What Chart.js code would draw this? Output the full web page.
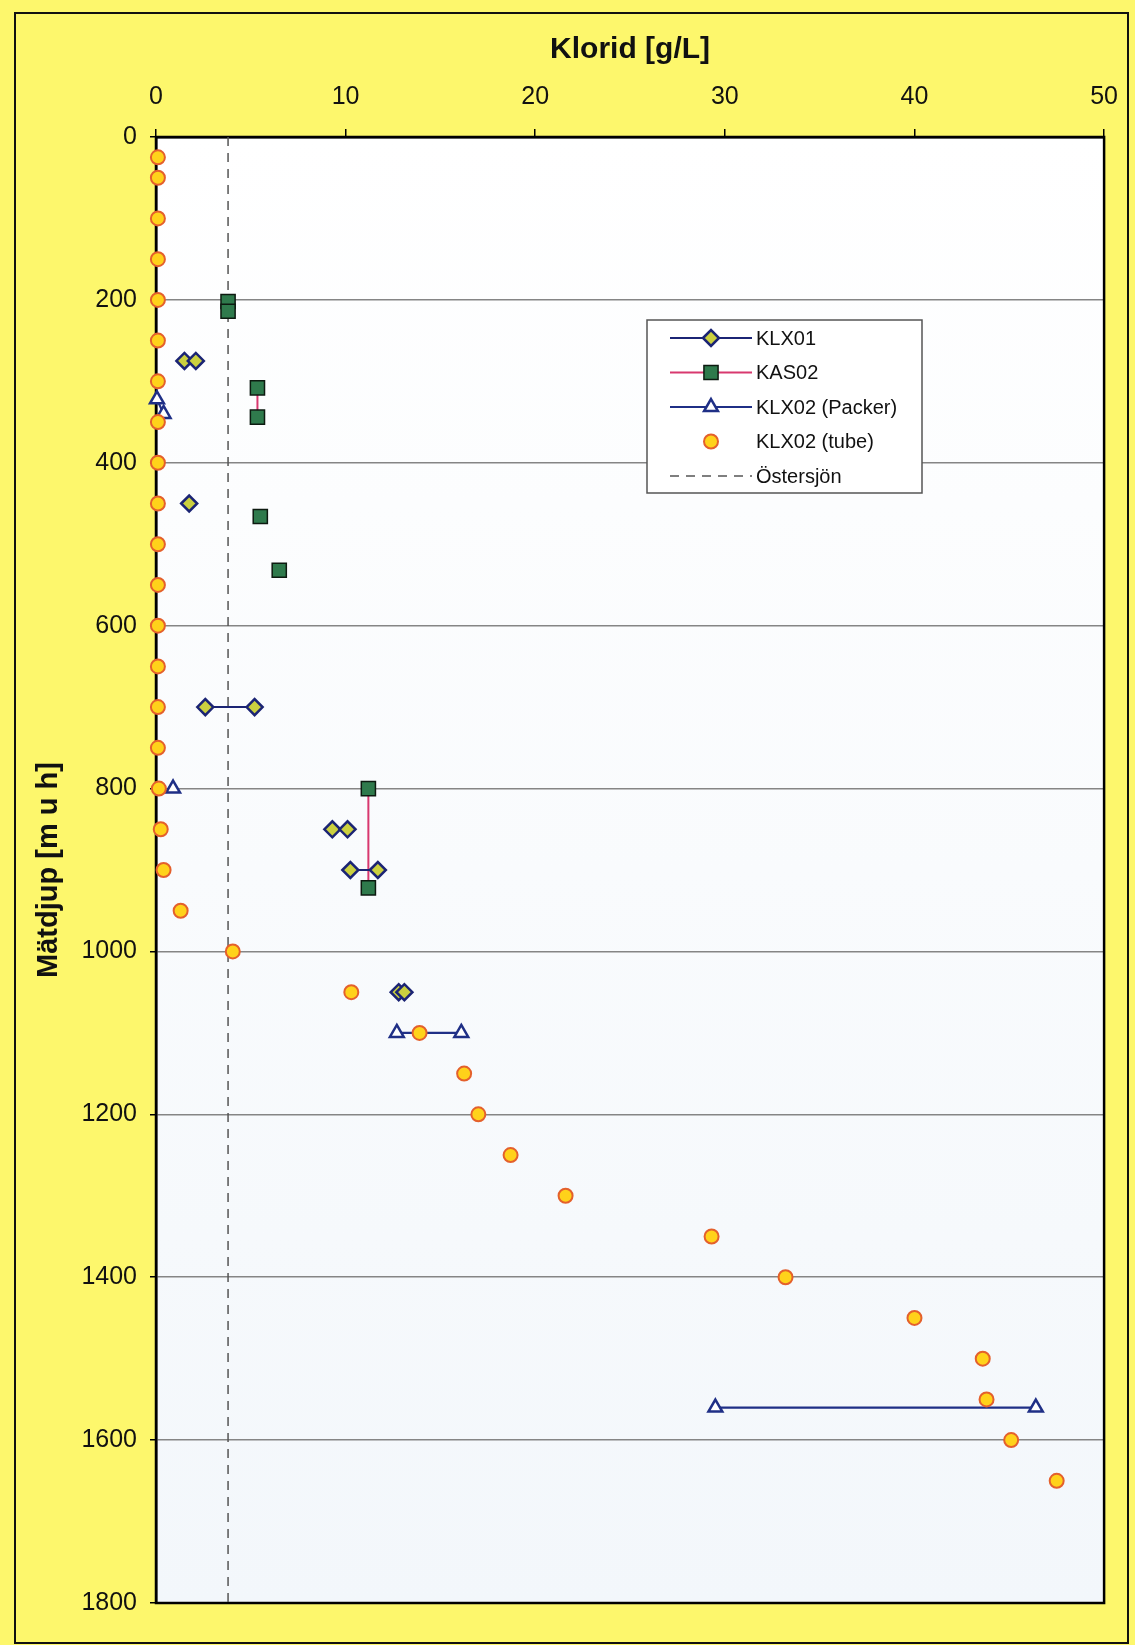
<!DOCTYPE html>
<html>
<head>
<meta charset="utf-8">
<script src="https://cdn.jsdelivr.net/npm/chart.js@4.4.0/dist/chart.umd.min.js"></script>
<style>
  html, body { margin: 0; padding: 0; background: #fdf76c; }
</style>
</head>
<body>
<canvas id="myChart" width="1135" height="1645"></canvas>
<script>
'use strict';

// axes: klorid [g/L] on top, depth [m u h] growing downwards
const xTicks = [0, 10, 20, 30, 40, 50];
const yTicks = [0, 200, 400, 600, 800, 1000, 1200, 1400, 1600, 1800];

// null = break between the sampled sections (no line drawn across)
const klx01Cl    = [1.5, 2.1, null, 1.75, null, 2.6, 5.2, null, 9.3, 10.1, null, 10.25, 11.7, null, 12.8, 13.1];
const klx01Depth = [275, 275, null, 450, null, 700, 700, null, 850, 850, null, 900, 900, null, 1050, 1050];

const kas02Cl    = [3.8, 3.8, null, 5.35, 5.35, null, 5.5, null, 6.5, null, 11.2, 11.2];
const kas02Depth = [202, 214, null, 308, 344, null, 466, null, 532, null, 800, 922];

const packerCl    = [0.05, 0.4, null, 0.9, null, 12.7, 16.1, null, 29.5, 46.4];
const packerDepth = [322, 340, null, 800, null, 1100, 1100, null, 1560, 1560];

const tubeDepth = [25, 50, 100, 150, 200, 250, 300, 350, 400, 450, 500, 550, 600, 650, 700, 750, 800, 850,
                   900, 950, 1000, 1050, 1100, 1150, 1200, 1250, 1300, 1350, 1400, 1450, 1500, 1550, 1600, 1650];
const tubeCl    = [0.1, 0.1, 0.1, 0.1, 0.1, 0.1, 0.1, 0.1, 0.1, 0.1, 0.1, 0.1, 0.1, 0.1, 0.1, 0.1, 0.15, 0.25,
                   0.4, 1.3, 4.05, 10.3, 13.9, 16.25, 17.0, 18.7, 21.6, 29.3, 33.2, 40.0, 43.6, 43.8, 45.1, 47.5];

const ostersjonCl    = [3.8, 3.8];
const ostersjonDepth = [0, 1800];

const legendOrder = ['KLX01', 'KAS02', 'KLX02 (Packer)', 'KLX02 (tube)', 'Östersjön'];

const FONT = "Arial, 'Liberation Sans', sans-serif";
const YELLOW = '#fdf76c';

function toPoints(xs, ys) {
  return xs.map((x, i) => ({ x: x, y: ys[i] }));
}

// yellow page, outer frame and plot background
const framePlugin = {
  id: 'frame',
  beforeDraw(chart) {
    const c = chart.ctx, a = chart.chartArea;
    c.save();
    c.fillStyle = YELLOW;
    c.fillRect(0, 0, chart.width, chart.height);
    c.strokeStyle = '#111';
    c.lineWidth = 2;
    c.strokeRect(15, 13, 1113, 1630);
    const g = c.createLinearGradient(0, a.top, 0, a.bottom);
    g.addColorStop(0, '#ffffff');
    g.addColorStop(1, '#f3f7fb');
    c.fillStyle = g;
    c.fillRect(a.left, a.top, a.right - a.left, a.bottom - a.top);
    c.restore();
  },
  beforeDatasetsDraw(chart) {
    const c = chart.ctx, a = chart.chartArea;
    c.save();
    c.strokeStyle = '#000';
    c.lineWidth = 2.5;
    c.strokeRect(a.left, a.top, a.right - a.left, a.bottom - a.top);
    c.restore();
  }
};

function marker(c, ds, x, y) {
  c.save();
  c.fillStyle = ds.pointBackgroundColor;
  c.strokeStyle = ds.pointBorderColor;
  c.lineWidth = ds.pointBorderWidth;
  Chart.helpers.drawPoint(c, {
    pointStyle: ds.pointStyle, rotation: 0, radius: ds.pointRadius, borderWidth: ds.pointBorderWidth
  }, x, y);
  c.restore();
}

// legend box inside the plot, line + marker samples like the original
const boxLegend = {
  id: 'boxLegend',
  afterDraw(chart) {
    const c = chart.ctx;
    const bx = 647, by = 320, bw = 275, bh = 173;
    c.save();
    c.fillStyle = '#ffffff';
    c.fillRect(bx, by, bw, bh);
    c.strokeStyle = '#555';
    c.lineWidth = 1.5;
    c.strokeRect(bx, by, bw, bh);
    legendOrder.forEach((name, i) => {
      const ds = chart.data.datasets.find(d => d.label === name);
      const y = by + 18 + i * 34.5;
      if (ds.showLine) {
        c.save();
        c.strokeStyle = ds.borderColor;
        c.lineWidth = ds.borderWidth;
        c.setLineDash(ds.borderDash || []);
        c.beginPath();
        c.moveTo(670, y);
        c.lineTo(752, y);
        c.stroke();
        c.restore();
      }
      if (ds.pointRadius > 0) marker(c, ds, 711, y);
      c.fillStyle = '#111';
      c.font = '20px ' + FONT;
      c.textBaseline = 'middle';
      c.fillText(name, 756, y + 1);
    });
    c.restore();
  }
};

const ctx = document.getElementById('myChart').getContext('2d');
const myChart = new Chart(ctx, {
  type: 'scatter',
  data: {
    datasets: [{
      label: 'KLX02 (tube)',
      data: toPoints(tubeCl, tubeDepth),
      showLine: false,
      pointStyle: 'circle',
      pointRadius: 7,
      pointBackgroundColor: '#ffd21a',
      pointBorderColor: '#e4602c',
      pointBorderWidth: 2,
      clip: false,
      order: 0
    }, {
      label: 'KLX01',
      data: toPoints(klx01Cl, klx01Depth),
      showLine: true,
      borderColor: '#1b2474',
      borderWidth: 2,
      pointStyle: 'rectRot',
      pointRadius: 8,
      pointBackgroundColor: '#cbd03f',
      pointBorderColor: '#1b2474',
      pointBorderWidth: 2.5,
      clip: false,
      order: 1
    }, {
      label: 'KAS02',
      data: toPoints(kas02Cl, kas02Depth),
      showLine: true,
      borderColor: '#d8386f',
      borderWidth: 2,
      pointStyle: 'rect',
      pointRadius: 10,
      pointBackgroundColor: '#2f7a4c',
      pointBorderColor: '#0d1a10',
      pointBorderWidth: 1.5,
      clip: false,
      order: 2
    }, {
      label: 'KLX02 (Packer)',
      data: toPoints(packerCl, packerDepth),
      showLine: true,
      borderColor: '#1f2f86',
      borderWidth: 2.2,
      pointStyle: 'triangle',
      pointRadius: 8,
      pointBackgroundColor: '#ffffff',
      pointBorderColor: '#1f2f86',
      pointBorderWidth: 2.5,
      clip: false,
      order: 3
    }, {
      label: 'Östersjön',
      data: toPoints(ostersjonCl, ostersjonDepth),
      showLine: true,
      borderColor: '#555555',
      borderWidth: 1.5,
      borderDash: [9, 7],
      pointRadius: 0,
      order: 4
    }]
  },
  options: {
    responsive: false,
    animation: false,
    layout: { padding: { left: 0, top: 0, right: 29, bottom: 42 } },
    plugins: {
      legend: { display: false },
      tooltip: { enabled: false }
    },
    scales: {
      x: {
        type: 'linear',
        position: 'top',
        min: 0,
        max: 50,
        afterBuildTicks(s) { s.ticks = xTicks.map(v => ({ value: v })); },
        afterFit(s) { s.height = 137; },
        grid: { drawOnChartArea: false, drawTicks: true, tickLength: 8, color: '#000', lineWidth: 1.5 },
        border: { display: true, color: '#000', width: 2.5 },
        ticks: { color: '#111', padding: 17, font: { family: FONT, size: 25 }, callback: v => String(v) },
        title: {
          display: true,
          text: 'Klorid [g/L]',
          color: '#111',
          padding: { top: 32, bottom: 0 },
          font: { family: FONT, size: 30, weight: 'bold' }
        }
      },
      y: {
        type: 'linear',
        position: 'left',
        reverse: true,
        min: 0,
        max: 1800,
        afterBuildTicks(s) { s.ticks = yTicks.map(v => ({ value: v })); },
        afterFit(s) { s.width = 156; },
        grid: { color: '#858585', lineWidth: 1.5, tickLength: 6, tickColor: '#000' },
        border: { display: true, color: '#000', width: 2.5 },
        ticks: { color: '#111', padding: 13, font: { family: FONT, size: 25 }, callback: v => String(v) },
        title: {
          display: true,
          text: 'Mätdjup [m u h]',
          color: '#111',
          padding: { top: 32, bottom: 0 },
          font: { family: FONT, size: 29, weight: 'bold' }
        }
      }
    }
  },
  plugins: [framePlugin, boxLegend]
});
</script>
</body>
</html>
